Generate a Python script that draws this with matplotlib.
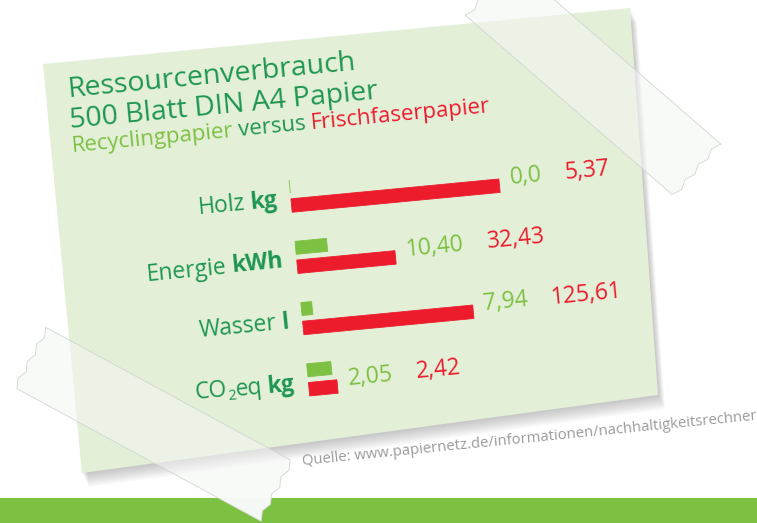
import matplotlib
matplotlib.use('Agg')
import matplotlib.pyplot as plt
import numpy as np
from matplotlib.patches import Polygon, Rectangle
from matplotlib.transforms import Affine2D
from matplotlib.font_manager import FontProperties

# data
categories = ['Holz', 'Energie', 'Wasser', 'CO2eq']
units = ['kg', 'kWh', 'l', 'kg']
recycling = [0.0, 10.40, 7.94, 2.05]
frischfaser = [5.37, 32.43, 125.61, 2.42]
recycling_labels = ['0,0', '10,40', '7,94', '2,05']
frischfaser_labels = ['5,37', '32,43', '125,61', '2,42']

# each row of the infographic has its own scale (pixels per unit)
row_scale = [38.9, 3.04, 1.36, 11.8]

FONT = 'Open Sans'
DARK = '#1e9650'
GREEN = '#7dc142'
RED = '#ec1c2d'
CARD = '#e3efd7'
ANG = 5.45

fig = plt.figure(figsize=(7.57, 5.23), dpi=100)
ax = fig.add_axes([0, 0, 1, 1])
ax.set_xlim(0, 757)
ax.set_ylim(523, 0)
ax.axis('off')
renderer = fig.canvas.get_renderer()

# card frame: local (u, v) -> picture pixels
card_tr = Affine2D().rotate_deg(-ANG).translate(43, 64) + ax.transData


def text_w(s, size, weight='normal'):
    prop = FontProperties(family=FONT, size=size, weight=weight)
    w, h, d = renderer.get_text_width_height_descent(s, prop, ismath=False)
    return w


def chain(pieces, u, v, align='left'):
    # pieces: (text, color, size, weight, dv, gap)
    widths = [text_w(p[0], p[2], p[3]) + p[5] for p in pieces]
    x = u - sum(widths) if align == 'right' else u
    for p, w in zip(pieces, widths):
        ax.text(x, v + p[4], p[0], color=p[1], fontsize=p[2], fontweight=p[3],
                family=FONT, transform=card_tr, rotation=ANG, rotation_mode='anchor',
                ha='left', va='baseline', zorder=5)
        x += w
    return sum(widths)


def tape_poly(a, d, n, length, width, teeth=7, jag=4):
    a, d, n = np.array(a), np.array(d), np.array(n)
    b = a + width * n
    pts = []
    for k in range(teeth + 1):
        pts.append(a + (k / teeth) * (b - a) + (jag if k % 2 else 0) * d)
    c = b + length * d
    e = a + length * d
    for k in range(teeth + 1):
        pts.append(c + (k / teeth) * (e - c) - (jag if k % 2 else 0) * d)
    return np.array(pts)


# green banner at the bottom
banner = Rectangle((0, 498), 757, 25, fc=GREEN, ec='none', zorder=1)
ax.add_patch(banner)

# card with soft shadow
card_xy = np.array([(43, 64), (630, 8), (658, 395), (82, 473)])
for i in range(1, 11):
    ax.add_patch(Polygon(card_xy + [i * 0.7, i * 1.4], closed=True,
                         fc='#444444', ec='none', alpha=0.03, zorder=1.5))
ax.add_patch(Polygon(card_xy, closed=True, fc=CARD, ec='none', zorder=2))

# title
chain([('Ressourcenverbrauch', DARK, 20.5, 'normal', 0, 0)], 22, 35.6)
chain([('500 Blatt DIN A4 Papier', DARK, 20.5, 'normal', 0, 0)], 21.5, 66.6)
chain([('Recyclingpapier', GREEN, 16, 'normal', 0, 5),
       ('versus', DARK, 16, 'normal', 0, 5),
       ('Frischfaserpapier', RED, 16, 'normal', 0, 0)], 21, 90)

# bars
BAR_U0 = 234
ROW0 = 139
ROW_STEP = 61.5
for i in range(len(categories)):
    v0 = ROW0 + i * ROW_STEP
    bt = Affine2D().scale(row_scale[i], 1).translate(BAR_U0, 0) + card_tr
    ax.barh([v0 + 6.5], [recycling[i]], height=13, color=GREEN, ec=GREEN,
            lw=0.6, transform=bt, zorder=4)
    ax.barh([v0 + 25.5], [frischfaser[i]], height=13.5, color=RED, ec=RED,
            lw=0.6, transform=bt, zorder=4)

    base = v0 + 25
    if categories[i] == 'CO2eq':
        chain([('CO', DARK, 16.5, 'normal', 0, 0),
               ('2', DARK, 10.5, 'normal', 4, 0),
               ('eq', DARK, 16.5, 'normal', 0, 5),
               (units[i], DARK, 16.5, 'bold', 0, 0)], 220, base, align='right')
    else:
        chain([(categories[i], DARK, 16.5, 'normal', 0, 5),
               (units[i], DARK, 16.5, 'bold', 0, 0)], 220, base, align='right')

    end = BAR_U0 + max(recycling[i], frischfaser[i]) * row_scale[i]
    w = chain([(recycling_labels[i], GREEN, 16.5, 'normal', 0, 23)], end + 11, base)
    chain([(frischfaser_labels[i], RED, 16.5, 'normal', 0, 0)], end + 11 + w, base)

# source
ax.text(303, 465, 'Quelle: www.papiernetz.de/informationen/nachhaltigkeitsrechner',
        color='#9b9b9b', fontsize=10.7, family=FONT, rotation=5.7,
        rotation_mode='anchor', ha='left', va='baseline', zorder=5)

# sticky tape
tapes = [tape_poly((465, 15), (0.756, 0.655), (0.655, -0.756), 278, 70),
         tape_poly((45.7, 327.3), (0.879, 0.477), (-0.477, 0.879), 282, 67.7)]
for t in tapes:
    ax.add_patch(Polygon(t, closed=True, fc=(0.955, 0.965, 0.955), alpha=0.55,
                         ec='none', zorder=6))
    over = Polygon(t, closed=True, fc='#f5f7f5', ec='none', zorder=6)
    ax.add_patch(over)
    over.set_clip_path(banner)
    ax.add_patch(Polygon(t, closed=True, fill=False, ec=(0.82, 0.84, 0.82),
                         lw=0.6, zorder=6))

fig.savefig('out.png', dpi=100)
